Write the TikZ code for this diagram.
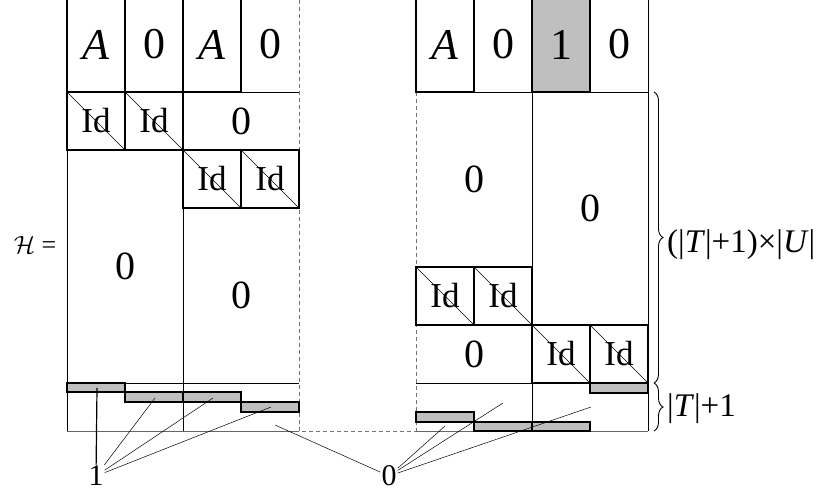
\documentclass[tikz,border=0pt]{standalone}
\usepackage{fontspec}
\setmainfont{Liberation Serif}
\usetikzlibrary{decorations.pathreplacing}

\begin{document}
\begin{tikzpicture}[
  x=1pt, y=-1pt,
  topcell/.style={rectangle, minimum width=58pt, minimum height=95pt, inner sep=0pt, font=\fontsize{44}{44}\selectfont},
  boxed/.style={draw=black, line width=1.1pt},
  idbox/.style={rectangle, draw=black, line width=1.1pt, minimum width=58pt, minimum height=58pt, inner sep=0pt, font=\fontsize{35}{35}\selectfont,
    path picture={\draw[line width=0.5pt] (path picture bounding box.north west) -- (path picture bounding box.south east);}},
  bigzero/.style={font=\fontsize{40}{40}\selectfont, inner sep=0pt},
  bar/.style={draw=black, line width=1.1pt, fill=black!25},
  frame/.style={line width=0.7pt},
  cut/.style={draw=black!55, dash pattern=on 4pt off 3pt, line width=1pt},
  lead/.style={line width=0.5pt},
  lbl/.style={font=\fontsize{30}{30}\selectfont, inner sep=1pt},
  dimlbl/.style={font=\fontsize{33}{33}\selectfont, inner sep=0pt, anchor=west},
  brc/.style={decorate, decoration={brace, amplitude=9pt}, line width=0.9pt}
]
\useasboundingbox (0,0) rectangle (826,494);

% --- Rahmen der beiden Teile ---
\draw[frame] (67,0) -- (67,431);
\draw[frame] (183,0) -- (183,431);
\draw[frame] (67,92) -- (299,92);
\draw[frame] (67,383) -- (299,383);
\draw[frame, black!60] (67,431) -- (299,431);
\draw[frame] (532,0) -- (532,431);
\draw[frame] (648,0) -- (648,431);
\draw[frame] (416,92) -- (648,92);
\draw[frame] (416,383) -- (648,383);
\draw[frame, black!60] (416,431) -- (648,431);
\draw[cut] (299,0) -- (299,431) -- (416,431);
\draw[cut] (416,92) -- (416,431);

% --- Kopfzeile ---
\node[topcell, boxed] (la1) at (96,44.5) {\textit{A}};
\node[topcell, boxed] (lz1) at (154,44.5) {0};
\node[topcell, boxed] (la2) at (212,44.5) {\textit{A}};
\node[topcell] (lz2) at (270,44.5) {0};
\node[topcell, boxed] (ra1) at (445,44.5) {\textit{A}};
\node[topcell] (rz1) at (503,44.5) {0};
\node[topcell, boxed, fill=black!25] (rone) at (561,44.5) {1};
\node[topcell] (rz2) at (619,44.5) {0};

% --- Bloecke links ---
\node[idbox] (lid1) at (96,121) {Id};
\node[idbox] (lid2) at (154,121) {Id};
\node[bigzero] (lz3) at (241,121) {0};
\node[idbox] (lid3) at (212,179) {Id};
\node[idbox] (lid4) at (270,179) {Id};
\node[bigzero] (lz4) at (125,266) {0};
\node[bigzero] (lz5) at (241,295) {0};

% --- Bloecke rechts ---
\node[bigzero] (rz3) at (474,179) {0};
\node[bigzero] (rz4) at (590,208) {0};
\node[idbox] (rid1) at (445,296) {Id};
\node[idbox] (rid2) at (503,296) {Id};
\node[bigzero] (rz5) at (474,354) {0};
\node[idbox] (rid3) at (561,354) {Id};
\node[idbox] (rid4) at (619,354) {Id};

% --- Balken unten ---
\draw[bar] (67,383) rectangle (125,392);
\draw[bar] (125,392) rectangle (183,402);
\draw[bar] (183,392) rectangle (241,402);
\draw[bar] (241,402) rectangle (299,412);
\draw[bar] (416,412) rectangle (474,422);
\draw[bar] (474,422) rectangle (532,431);
\draw[bar] (532,422) rectangle (590,431);
\draw[bar] (590,383) rectangle (648,393);

% --- Beschriftung ---
\node[font=\fontsize{26}{26}\selectfont] (hlabel) at (35,245) {\(\mathcal{H}\) =};
\node[lbl] (lblone) at (96,476) {1};
\node[lbl] (lblzero) at (389,476) {0};
\node[dimlbl] (dimtop) at (667,245) {(|\textit{T}|+1)×|\textit{U}|};
\node[dimlbl] (dimbot) at (667,409) {|\textit{T}|+1};

% --- Klammern ---
\coordinate (brtop) at (654,92);
\coordinate (brmid) at (654,383);
\coordinate (brbot) at (654,431);
\draw[brc] (brtop) -- (brmid);
\draw[brc] (brmid) -- (brbot);

% --- Zeiger ---
\coordinate (b1) at (97,388);
\coordinate (b2) at (155,398);
\coordinate (b3) at (213,398);
\coordinate (b4) at (271,407);
\coordinate (z1) at (275,425);
\coordinate (z2) at (445,426);
\coordinate (z3) at (503,403);
\coordinate (z4) at (591,407);
\draw[line width=1.2pt] (lblone) -- (b1);
\draw[lead] (lblone) -- (b2);
\draw[lead] (lblone) -- (b3);
\draw[lead] (lblone) -- (b4);
\draw[lead] (lblzero) -- (z1);
\draw[lead] (lblzero) -- (z2);
\draw[lead] (lblzero) -- (z3);
\draw[lead] (lblzero) -- (z4);

\end{tikzpicture}
\end{document}
